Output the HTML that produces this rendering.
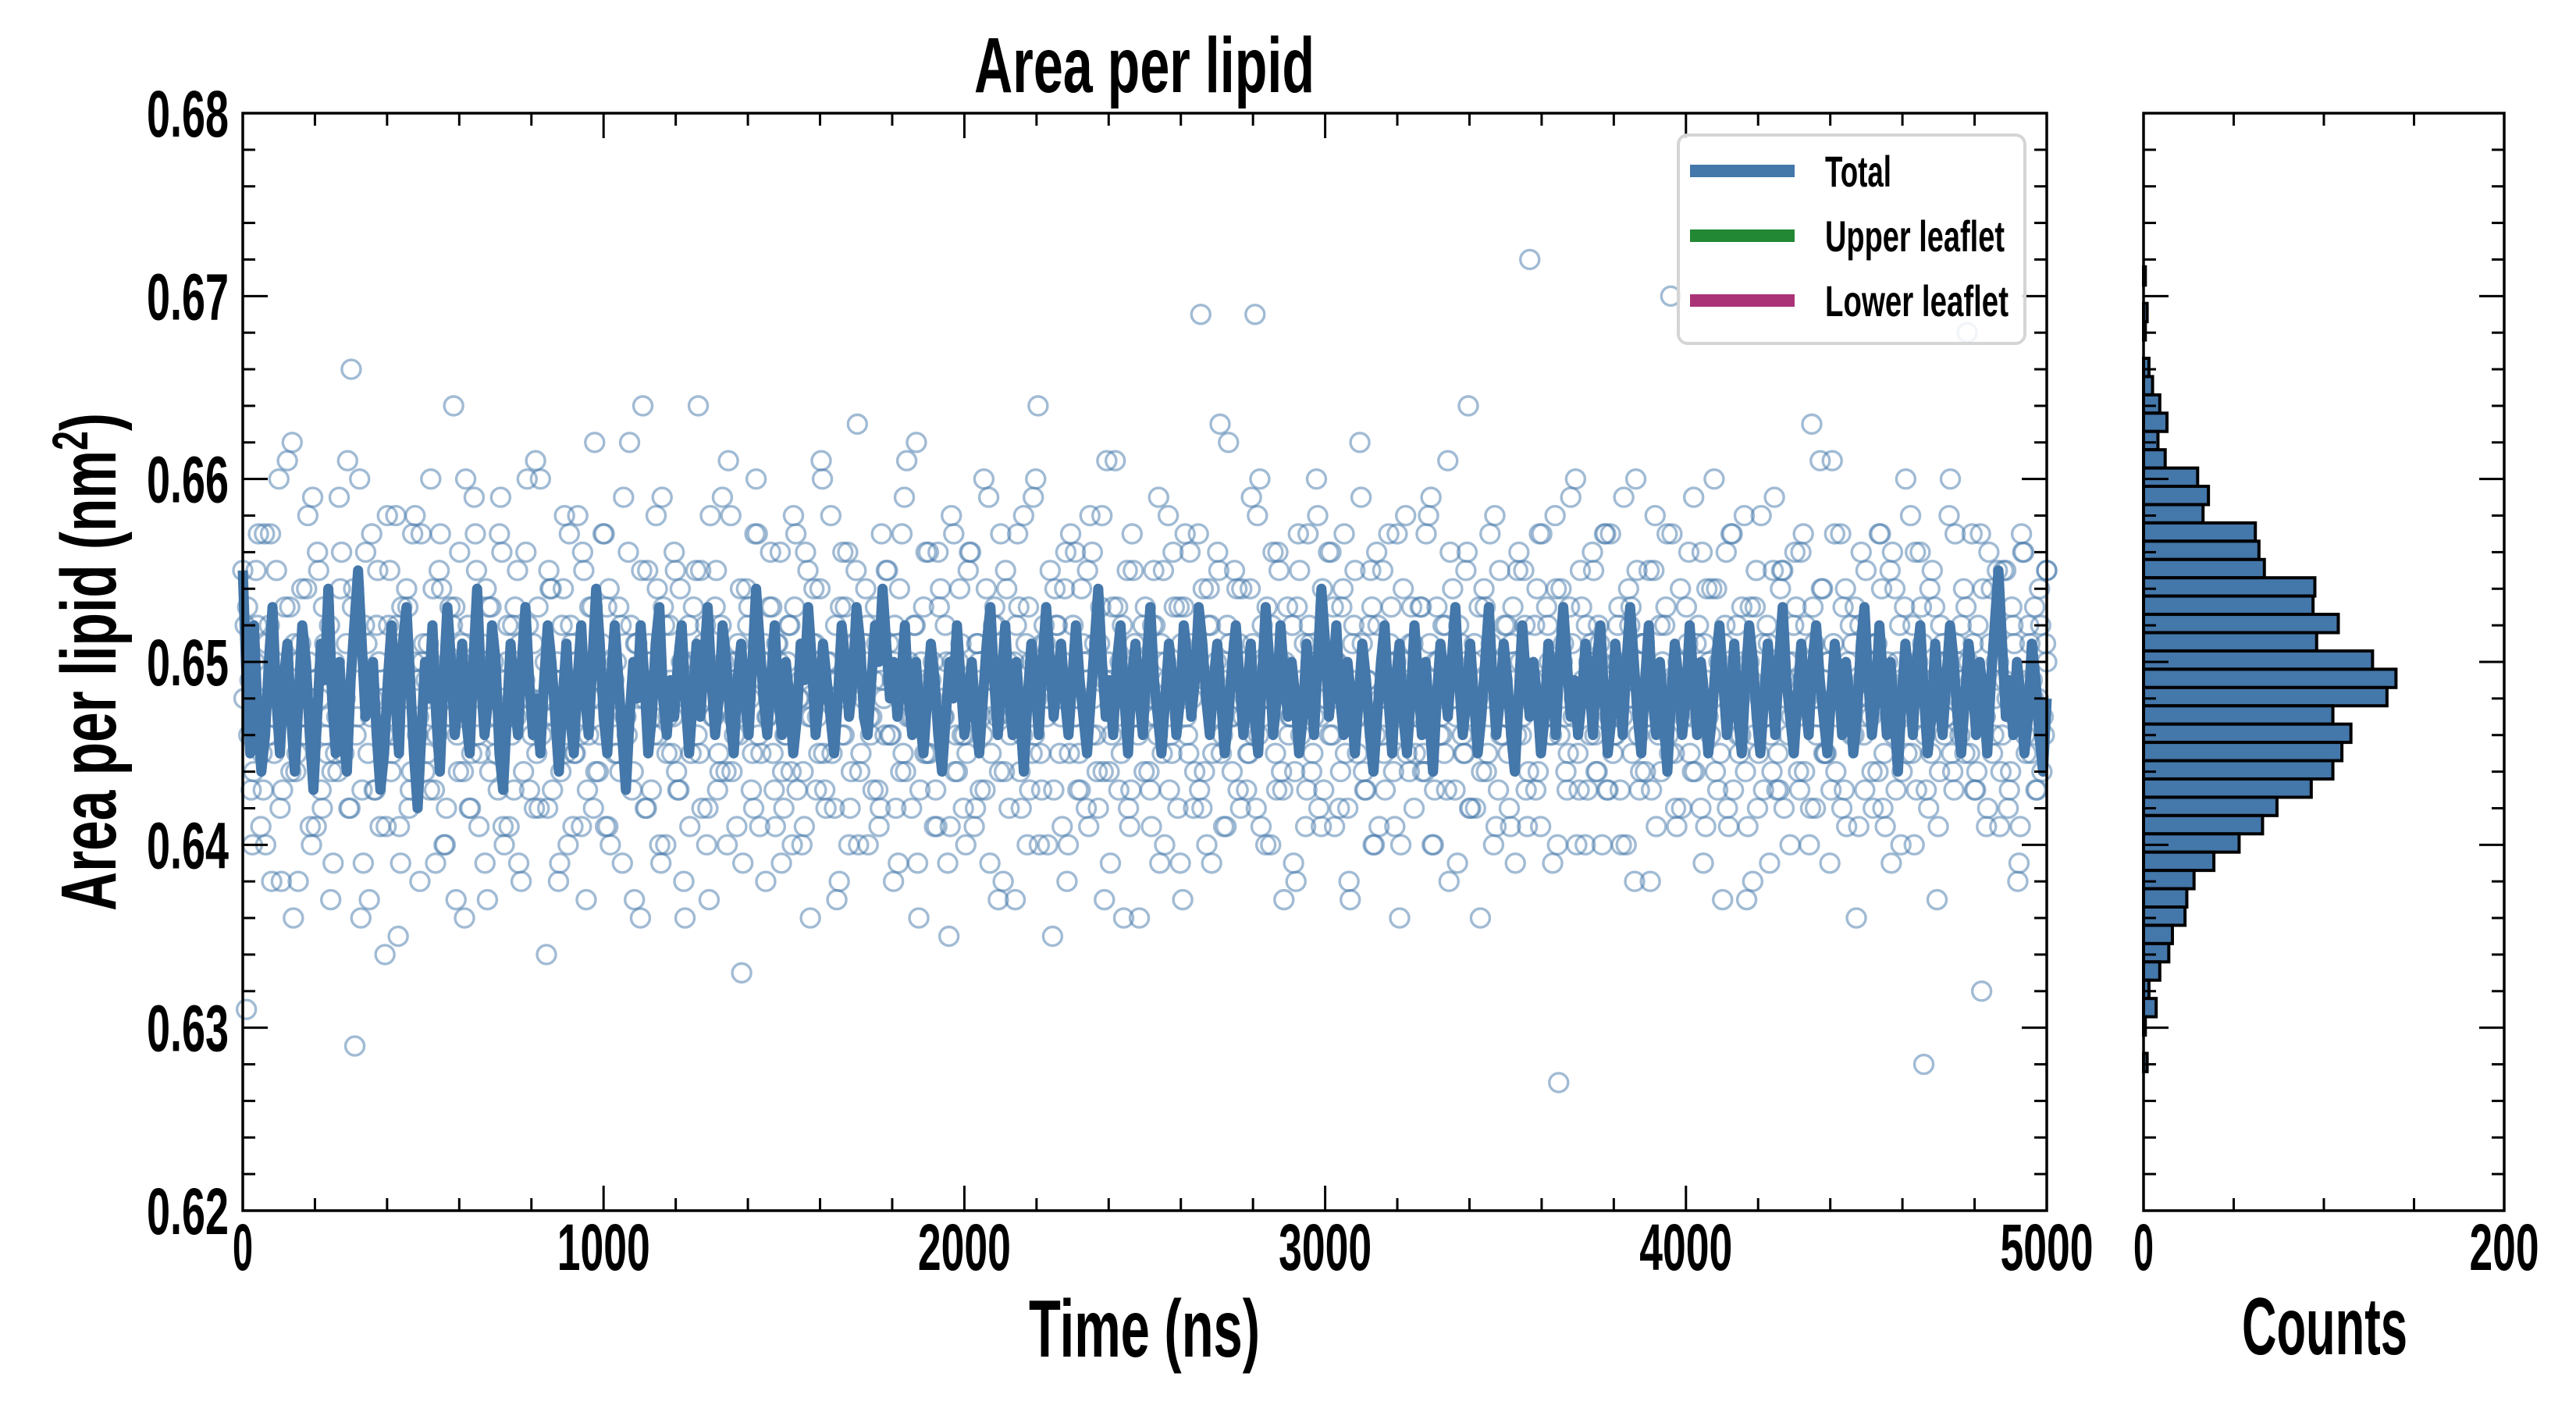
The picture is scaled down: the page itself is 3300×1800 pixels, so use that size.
<!DOCTYPE html>
<html><head><meta charset="utf-8"><style>
html,body{margin:0;padding:0;background:#fff;}
svg{display:block;}
text{font-family:"Liberation Sans Narrow","Liberation Sans",sans-serif;font-weight:bold;fill:#000;}
</style></head><body>
<svg id="chart" width="3300" height="1800" viewBox="0 0 3300 1800" xmlns="http://www.w3.org/2000/svg">
<rect width="3300" height="1800" fill="#fff"/>
<g id="main-plot"></g>
<g id="hist-plot"></g>
<text x="1466" y="118" font-size="100" text-anchor="middle" textLength="436" lengthAdjust="spacingAndGlyphs">Area per lipid</text>
<text x="1466" y="1738" font-size="104" text-anchor="middle" textLength="296" lengthAdjust="spacingAndGlyphs">Time (ns)</text>
<text x="2978" y="1735" font-size="104" text-anchor="middle" textLength="212" lengthAdjust="spacingAndGlyphs">Counts</text>
<text transform="translate(148,848) rotate(-90)" font-size="100" text-anchor="middle" textLength="638" lengthAdjust="spacingAndGlyphs">Area per lipid (nm<tspan font-size="64" dy="-36">2</tspan><tspan dy="36">)</tspan></text>
<g id="legend">
<rect x="2150" y="173" width="444" height="267" rx="12" fill="#fff" fill-opacity="0.85" stroke="#d5d5d5" stroke-width="4"/>
<line x1="2165" y1="219" x2="2299" y2="219" stroke="#4477aa" stroke-width="16"/>
<text x="2338" y="239" font-size="56" textLength="85" lengthAdjust="spacingAndGlyphs">Total</text>
<line x1="2165" y1="302" x2="2299" y2="302" stroke="#228833" stroke-width="16"/>
<text x="2338" y="322" font-size="56" textLength="230" lengthAdjust="spacingAndGlyphs">Upper leaflet</text>
<line x1="2165" y1="385" x2="2299" y2="385" stroke="#aa3377" stroke-width="16"/>
<text x="2338" y="405" font-size="56" textLength="235" lengthAdjust="spacingAndGlyphs">Lower leaflet</text>
</g>
</svg>
<script>
// ---- data (area per lipid values in units of 0.001 nm^2) ----
const scatterAPL = [
655,631,649,644,652,641,657,646,638,650,660,643,648,653,636,645,651,647,658,640,649,655,642,646,652,
639,647,654,645,661,666,629,650,643,656,637,648,652,641,646,658,644,650,635,653,647,642,657,649,638,
651,645,660,643,648,654,640,647,652,637,656,644,649,642,659,646,651,639,653,648,645,657,641,650,647,
643,655,638,649,652,646,661,642,648,634,654,647,650,644,658,640,651,645,649,656,637,653,642,648,646,
657,641,650,645,653,639,647,662,644,651,636,648,655,643,649,646,659,640,652,647,644,654,638,650,645,
649,664,642,652,637,647,655,644,650,640,658,646,651,633,648,653,645,660,641,649,647,656,643,651,639,
646,652,640,657,648,644,650,636,654,647,661,643,649,645,652,638,656,648,642,650,663,645,651,640,647,
653,641,649,655,646,638,651,644,659,647,642,652,636,648,656,645,650,641,654,647,639,658,644,650,646,
640,656,647,651,643,660,648,645,653,637,649,655,642,647,652,644,658,640,650,646,664,643,651,648,635,
652,645,650,638,657,647,643,654,649,641,656,646,651,644,661,639,648,653,645,650,642,657,647,636,652,
648,643,655,646,651,640,658,645,649,653,637,647,656,642,650,669,644,652,639,648,655,646,641,651,647,
654,642,650,645,659,669,646,652,640,648,656,643,650,637,653,647,644,657,649,641,652,645,660,647,643,
650,656,641,648,653,645,638,651,647,662,644,649,655,640,652,646,643,657,648,650,636,654,645,651,642,
647,653,644,658,640,650,646,652,643,656,648,639,651,645,664,647,642,653,649,644,657,640,650,646,652,
645,651,639,656,647,643,672,649,654,641,648,652,646,658,627,650,644,653,647,640,655,648,643,651,646,
652,640,657,647,645,650,643,659,648,653,638,646,651,644,655,649,641,652,647,657,670,645,650,642,648,
656,644,651,647,639,654,646,660,643,649,652,641,657,648,645,650,637,653,646,642,658,647,651,644,649,
643,655,648,640,652,647,656,644,650,663,642,648,654,645,639,651,647,657,643,650,646,653,641,649,655,
648,642,651,657,645,650,639,654,647,644,660,648,652,643,656,628,649,645,653,641,650,647,658,644,651,
646,654,668,649,643,652,632,647,656,645,650,641,655,648,644,651,638,657,646,652,649,643,654,647,650
];
const scatterAPL2 = [
648,653,643,650,657,645,640,652,647,655,642,649,661,644,651,638,654,646,650,659,641,648,653,645,637,
650,644,656,648,642,653,646,660,639,651,647,643,655,649,634,652,645,658,641,648,654,643,650,646,657,
644,651,647,639,655,648,642,653,664,646,650,636,652,645,657,641,649,654,644,650,647,659,640,652,646,
653,639,648,656,643,651,645,660,647,642,654,649,638,652,645,657,641,650,646,655,643,648,662,644,651,
641,654,647,650,644,659,646,652,637,649,655,642,651,647,658,640,653,645,649,656,643,650,636,652,648,
655,645,651,640,658,647,643,652,649,661,644,650,646,639,654,648,642,657,645,651,647,653,641,650,644,
646,652,658,643,649,641,655,647,651,645,660,642,650,648,637,653,646,656,644,651,640,649,654,647,643,
651,642,648,655,646,652,639,657,644,650,647,662,643,653,645,649,641,656,648,652,635,650,646,654,642,
645,656,641,651,647,643,659,649,652,644,638,654,646,650,657,642,648,653,645,660,640,651,647,655,643,
652,647,654,640,649,656,645,651,642,658,648,644,653,637,650,646,661,643,652,648,641,655,647,650,644,
647,641,652,659,645,650,643,656,648,639,653,646,651,644,657,642,649,654,645,650,663,641,652,647,655,
643,654,648,645,651,642,660,647,653,640,649,656,644,650,646,652,638,655,648,643,651,647,658,641,650,
656,646,650,642,654,648,637,652,645,659,643,649,653,646,641,655,648,651,644,657,640,650,647,653,645,
649,644,657,651,640,653,647,645,661,649,643,652,646,655,642,650,648,636,654,645,651,658,643,649,647,
642,653,646,650,655,641,648,652,644,657,647,650,639,654,646,651,643,659,648,645,653,640,650,656,644,
651,648,643,657,646,652,640,649,654,645,660,643,651,647,638,655,649,644,652,646,657,642,650,648,653,
645,659,649,642,651,647,654,644,650,637,656,648,643,652,646,658,641,649,653,645,651,647,639,655,643,
654,642,650,647,656,644,649,652,640,653,646,661,645,650,643,657,648,642,654,647,651,636,652,646,649,
647,651,644,654,641,649,656,643,652,647,645,658,640,650,653,646,642,655,649,644,651,647,660,643,650,
652,645,650,657,643,648,654,641,651,646,655,644,649,642,653,647,639,656,645,651,648,643,652,646,655
];
const scatterAPL3 = [
652,646,640,655,648,643,651,657,645,649,638,653,647,662,644,650,646,654,641,649,656,643,651,647,644,
645,659,648,651,642,654,647,636,652,645,657,643,650,648,641,655,646,652,639,649,653,644,658,647,650,
649,643,654,646,657,640,650,647,653,644,651,660,642,648,655,645,650,637,653,646,643,656,649,641,652,
647,651,644,660,648,642,653,646,650,655,643,649,639,654,647,652,645,658,641,650,646,653,644,649,657,
653,640,649,645,652,647,656,643,651,648,664,642,650,646,654,639,652,647,645,655,643,650,648,641,653,
646,655,650,642,648,653,645,659,644,650,647,641,654,648,652,643,657,646,650,638,653,645,651,656,642,
650,644,653,648,640,656,647,651,643,654,645,650,658,642,649,646,653,640,651,655,644,648,652,646,649,
643,657,646,651,649,642,654,645,661,647,652,639,650,645,656,648,643,653,647,650,641,657,644,651,646,
655,648,642,650,646,654,639,652,647,657,644,650,648,637,653,646,651,643,659,648,645,652,640,649,654,
648,641,656,645,652,647,643,650,655,646,651,642,658,649,644,653,647,650,636,655,643,651,646,648,653,
644,652,647,639,655,649,646,653,642,651,657,645,648,650,643,654,640,652,647,656,645,650,662,644,649,
651,647,643,654,646,658,641,650,648,652,645,655,643,649,647,639,653,646,651,657,644,650,642,654,648,
646,653,650,644,657,642,649,655,647,651,643,652,640,656,648,645,650,653,641,649,646,658,644,651,647,
653,645,648,659,643,650,646,652,638,654,647,649,645,656,642,651,648,644,653,647,650,641,655,646,652,
641,650,655,646,652,644,648,643,657,649,653,646,650,640,654,647,645,651,660,643,649,652,646,655,644,
650,657,643,649,646,653,647,640,652,648,655,644,651,647,643,658,646,650,653,645,649,641,654,647,651,
647,644,652,656,641,650,648,654,645,651,642,657,649,646,653,644,650,638,655,648,643,652,646,659,645,
655,649,646,650,653,643,657,648,642,651,647,654,645,650,661,644,649,653,641,652,646,648,656,643,650,
644,651,657,642,649,655,646,650,640,653,648,645,656,647,651,643,654,649,637,652,646,650,645,657,648,
649,653,645,651,644,657,647,642,654,648,650,646,655,643,652,647,641,656,649,645,653,648,644,651,655
];
const lineAPL = [
655,649,645,652,647,644,646,650,653,648,645,649,651,647,644,648,652,650,646,643,647,651,649,654,648,645,650,646,644,649,
652,655,651,647,648,650,646,643,645,649,652,648,645,651,653,649,645,642,646,650,648,652,647,644,649,653,650,646,648,651,
647,645,650,654,649,646,648,652,650,645,643,647,651,648,646,650,653,649,646,648,645,649,652,650,647,644,648,651,647,645,
649,652,648,646,650,654,651,647,645,649,652,649,646,643,647,650,648,652,649,645,647,651,653,648,646,649,647,650,652,648,
645,648,651,647,650,653,649,646,648,652,650,647,645,649,651,648,646,650,654,651,648,646,649,652,648,646,650,648,645,647,
651,649,653,650,646,648,651,649,647,645,648,652,650,647,649,653,651,647,646,649,652,650,654,651,648,650,647,649,652,648,
646,650,647,645,648,651,649,646,644,647,650,648,652,649,646,648,650,647,645,648,651,653,649,646,649,652,648,646,650,647,
644,648,651,649,646,650,653,650,647,649,651,648,646,649,652,649,647,645,648,651,654,650,647,649,646,650,652,648,645,649,
651,648,646,650,653,649,647,645,648,651,649,646,648,652,650,647,649,653,651,648,646,649,651,648,645,647,650,652,649,646,
648,651,647,645,649,653,650,646,648,652,649,647,650,648,645,647,651,649,646,650,654,651,647,649,652,648,646,650,648,645,
648,651,649,646,644,647,650,652,648,645,649,651,647,645,648,652,649,646,650,647,644,648,651,649,647,650,653,649,646,648,
651,648,645,647,650,653,649,646,648,651,649,646,644,648,652,649,647,650,648,645,647,651,649,646,650,653,650,647,649,646,
648,651,649,646,650,652,648,645,647,651,649,646,650,653,650,647,645,649,652,648,646,650,647,644,648,651,649,646,648,652,
649,646,650,648,645,647,650,652,649,646,648,651,647,645,649,652,650,647,645,648,651,649,646,650,653,649,647,645,648,651,
648,646,650,652,649,647,645,648,651,649,646,650,648,645,647,651,653,649,646,648,652,649,646,650,647,644,648,651,649,646,
650,652,648,645,647,651,648,646,649,652,650,647,645,648,651,649,646,650,648,645,649,652,655,651,647,649,646,650,648,645,
647,651,649,646,644,648
];
// histogram: bin upper edges (nm^2) and counts
const histBinTop = [0.6716,0.6706,0.6696,0.6686,0.6676,0.6666,0.6656,0.6646,0.6636,0.6626,0.6616,0.6606,0.6596,0.6586,0.6576,0.6566,0.6556,0.6546,0.6536,0.6526,0.6516,0.6506,0.6496,0.6486,0.6476,0.6466,0.6456,0.6446,0.6436,0.6426,0.6416,0.6406,0.6396,0.6386,0.6376,0.6366,0.6356,0.6346,0.6336,0.6326,0.6316,0.6306,0.6296,0.6286];
const histCounts = [1,0,2,1,0,3,5,9,13,8,12,30,36,33,62,64,67,95,94,108,96,127,140,135,105,115,110,105,93,74,66,53,39,28,24,23,16,14,9,3,7,1,0,2];
const histBinWidth = 0.001;
const yTicks = [0.62,0.63,0.64,0.65,0.66,0.67,0.68];
const yTickLabels = ["0.62","0.63","0.64","0.65","0.66","0.67","0.68"];
const xTicks = [0,1000,2000,3000,4000,5000];
const xTickLabels = ["0","1000","2000","3000","4000","5000"];
const countTicks = [0,200];
const countTickLabels = ["0","200"];
const timeMax = 5000;

// ---- layout ----
const L=311,R=2622,T=145,B=1551,HL=2746,HR=3208;
const NS="http://www.w3.org/2000/svg";
const yScale=v=>B-(v-0.62)/(0.06)*(B-T);
const xScale=t=>L+t/timeMax*(R-L);
const cScale=c=>HL+c/200*(HR-HL);
function mk(tag,attrs,parent){const e=document.createElementNS(NS,tag);for(const k in attrs)e.setAttribute(k,attrs[k]);parent.appendChild(e);return e;}
const main=document.getElementById('main-plot');
const hist=document.getElementById('hist-plot');

// scatter (three interleaved sample sets)
const sg=mk('g',{},main);


[[scatterAPL,0],[scatterAPL2,1/3],[scatterAPL3,2/3]].forEach(([arr,ph])=>{
  const step=timeMax/(arr.length-1);
  arr.forEach((v,i)=>{
    const t=Math.min(timeMax,(i+ph)*step);
    const c=mk('circle',{cx:xScale(t),cy:yScale(v/1000),r:12,fill:'none',stroke:'#4477aa','stroke-width':3.4,'stroke-opacity':0.5},sg);
    
    
  });
});
// line
const pts=lineAPL.map((v,i)=>xScale(i*timeMax/(lineAPL.length-1)).toFixed(1)+','+yScale(v/1000).toFixed(1)).join(' ');
const pl=mk('polyline',{points:pts,fill:'none',stroke:'#4477aa','stroke-width':13,'stroke-linejoin':'round'},main);



// histogram bars
histCounts.forEach((c,i)=>{
  if(c<=0)return;
  const y0=yScale(histBinTop[i]),y1=yScale(histBinTop[i]-histBinWidth);
  const r=mk('rect',{x:HL,y:y0,width:cScale(c)-HL,height:y1-y0,fill:'#4477aa',stroke:'#000','stroke-width':4},hist);
  
  
});

// axes frames and ticks
function frame(x0,x1,parent,name){
  const f=mk('rect',{x:x0,y:T,width:x1-x0,height:B-T,fill:'none',stroke:'#000','stroke-width':3.5},parent);
  
  
}
frame(L,R,main,'main-axes-frame');
frame(HL,HR,hist,'histogram-axes-frame');
function tick(x1,y1,x2,y2,parent){const l=mk('line',{x1,y1,x2,y2,stroke:'#000','stroke-width':3},parent);}
[[L,R],[HL,HR]].forEach(([a,b])=>{
  const g=a===L?main:hist;
  for(let k=0;k<=30;k++){
    const v=0.62+k*0.002;const y=yScale(v);const major=k%5===0;const len=major?32:16;
    tick(a,y,a+len,y,g);tick(b,y,b-len,y,g);
  }
});
for(let t=0;t<=5000;t+=200){const x=xScale(t);const len=t%1000===0?32:16;tick(x,B,x,B-len,main);tick(x,T,x,T+len,main);}
for(let c=0;c<=200;c+=50){const x=cScale(c);const len=c%200===0?32:16;tick(x,B,x,B-len,hist);tick(x,T,x,T+len,hist);}

// keep legend on top
document.getElementById('chart').appendChild(document.getElementById('legend'));

// tick labels
yTicks.forEach((v,i)=>{
  const t=mk('text',{x:293,y:yScale(v)+30,'font-size':84,'text-anchor':'end',textLength:105,lengthAdjust:'spacingAndGlyphs'},main);
  t.textContent=yTickLabels[i];
  
  
});
xTicks.forEach((v,i)=>{
  const w=xTickLabels[i].length===1?26:119;
  const t=mk('text',{x:xScale(v),y:1627,'font-size':84,'text-anchor':'middle',textLength:w,lengthAdjust:'spacingAndGlyphs'},main);
  t.textContent=xTickLabels[i];
  
  
});
countTicks.forEach((v,i)=>{
  const w=countTickLabels[i].length===1?26:89;
  const t=mk('text',{x:cScale(v),y:1627,'font-size':84,'text-anchor':'middle',textLength:w,lengthAdjust:'spacingAndGlyphs'},hist);
  t.textContent=countTickLabels[i];
  
  
});
</script>
</body></html>
